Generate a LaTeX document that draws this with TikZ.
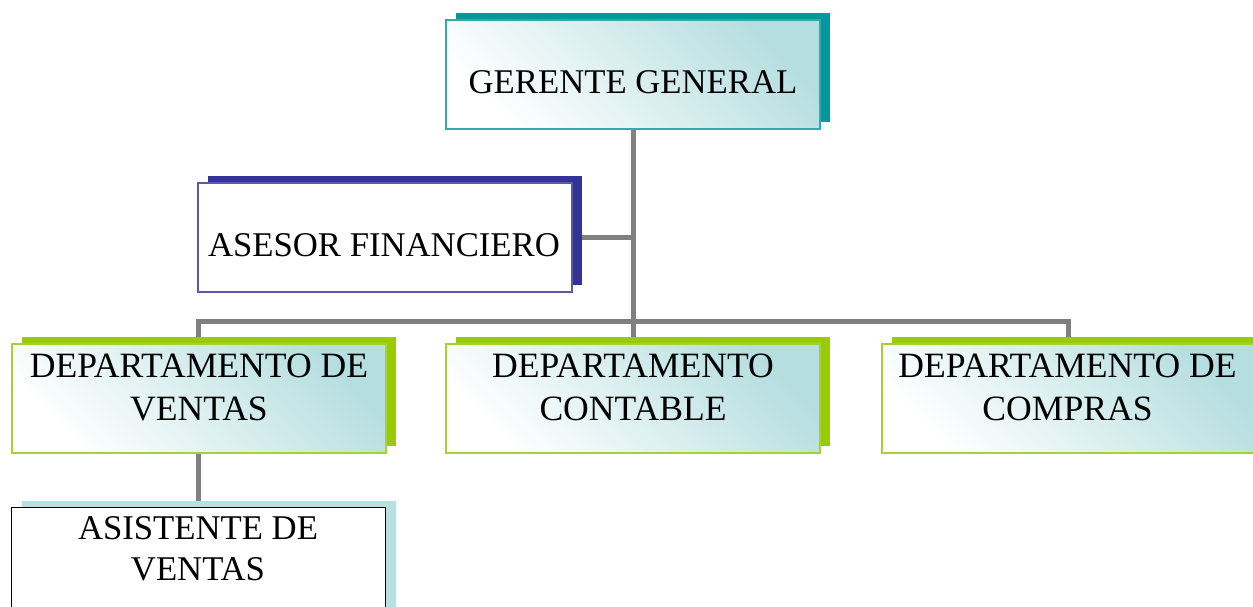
\documentclass[tikz,border=0pt]{standalone}
\usepackage{fontspec}
\setmainfont{Liberation Serif}
\usetikzlibrary{shadows,backgrounds}
\definecolor{tealS}{HTML}{009999}
\definecolor{tealL}{HTML}{B5DEE0}
\definecolor{tealB}{HTML}{33AAAA}
\definecolor{navyS}{HTML}{333399}
\definecolor{navyB}{HTML}{5A5AAA}
\definecolor{limeS}{HTML}{99CC00}
\definecolor{limeB}{HTML}{A8D030}
\definecolor{asisS}{HTML}{B7E0E0}
\definecolor{connC}{HTML}{808080}
\tikzset{
  box/.style={rectangle, minimum width=374pt, minimum height=109pt, inner sep=0pt, line width=2pt},
  sh/.style={general shadow={shadow xshift=10pt, shadow yshift=7pt, fill=#1}},
  grad/.style={left color=white, right color=tealL, shading angle=135},
  lbl/.style={font=\fontsize{34.7}{43}\selectfont, align=center, inner sep=0pt},
  dlbl/.style={lbl, font=\fontsize{35.6}{43}\selectfont},
  conn/.style={draw=connC, line width=5pt}
}
\begin{document}
\begin{tikzpicture}[x=1pt,y=-1pt]
\useasboundingbox (0,0) rectangle (1253,607);
% boxes
\node[box, grad, draw=tealB, sh=tealS] (ger) at (633,75) {};
\node[lbl] (gerT) at (633,82) {GERENTE GENERAL};
\node[box, fill=white, draw=navyB, sh=navyS] (ase) at (384.5,237.5) {};
\node[lbl] (aseT) at (384,245) {ASESOR FINANCIERO};
\node[box, grad, draw=limeB, sh=limeS] (ven) at (198.5,398) {};
\node[dlbl] (venT) at (199,387) {DEPARTAMENTO DE\\VENTAS};
\node[box, grad, draw=limeB, sh=limeS] (con) at (633,398) {};
\node[dlbl] (conT) at (633,387) {DEPARTAMENTO\\CONTABLE};
\node[box, grad, draw=limeB, sh=limeS] (com) at (1068.5,398) {};
\node[dlbl] (comT) at (1067.5,387) {DEPARTAMENTO DE\\COMPRAS};
\node[box, fill=white, draw=black, line width=1.5pt, sh=asisS] (asi) at (198.5,562) {};
\node[lbl, font=\fontsize{34.7}{41}\selectfont] (asiT) at (198,548.5) {ASISTENTE DE\\VENTAS};
% connectors
\coordinate (j) at (633,321);
\begin{pgfonlayer}{background}
\draw[conn] (ger.south) -- (j);
\draw[conn] (ase.east) -- (ase.east -| ger.south);
\draw[conn] (ven.north) |- (j) -| (com.north);
\draw[conn] (j) -- (con.north);
\draw[conn] (ven.south) -- (asi.north);
\end{pgfonlayer}
\end{tikzpicture}
\end{document}
